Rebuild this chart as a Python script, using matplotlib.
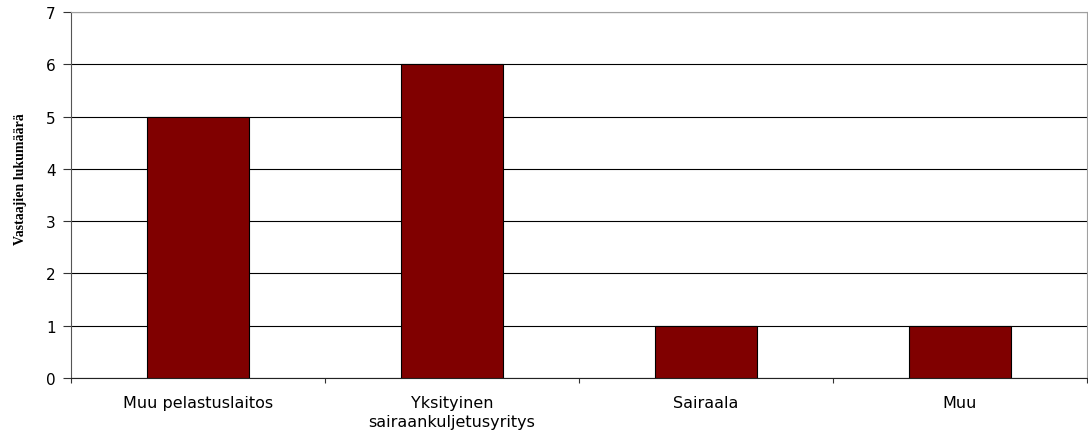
import numpy as np
import matplotlib.pyplot as plt

categories = ['Muu pelastuslaitos', 'Yksityinen\nsairaankuljetusyritys', 'Sairaala', 'Muu']
values = [5, 6, 1, 1]

plt.rcParams['font.family'] = ['DejaVu Sans']

fig = plt.figure(figsize=(10.88, 4.39), dpi=100)
ax = fig.add_axes([71/1088, 1 - 379/439, 1016/1088, 366/439])

x = np.arange(len(categories))
ax.bar(x, values, width=0.4, color='#800000', edgecolor='black', linewidth=0.8, zorder=3)

ax.set_xlim(-0.5, len(categories) - 0.5)
ax.set_ylim(0, 7)
ax.set_yticks(range(0, 8))
ax.yaxis.grid(True, color='black', linewidth=0.8, zorder=0)
ax.set_axisbelow(True)

# category labels centred, ticks on the boundaries
ax.set_xticks(x)
ax.set_xticklabels(categories, fontsize=11.5, linespacing=1.35)
ax.tick_params(axis='x', which='major', length=0, pad=12)
ax.set_xticks(np.arange(-0.5, len(categories)), minor=True)
ax.tick_params(axis='x', which='minor', length=3.5, width=0.8, color='#333333')
ax.tick_params(axis='y', length=6, width=0.8, color='#333333', labelsize=11, pad=5)

ax.spines['left'].set_color('#555555')
ax.spines['bottom'].set_color('#222222')
ax.spines['top'].set_color('#a0a0a0')
ax.spines['right'].set_color('#a0a0a0')

ax.set_ylabel('Vastaajien lukumäärä', fontsize=10, fontweight='bold',
              family='Liberation Serif')
ax.yaxis.set_label_coords(-0.043, 0.545)

plt.savefig('out.png', dpi=100)
